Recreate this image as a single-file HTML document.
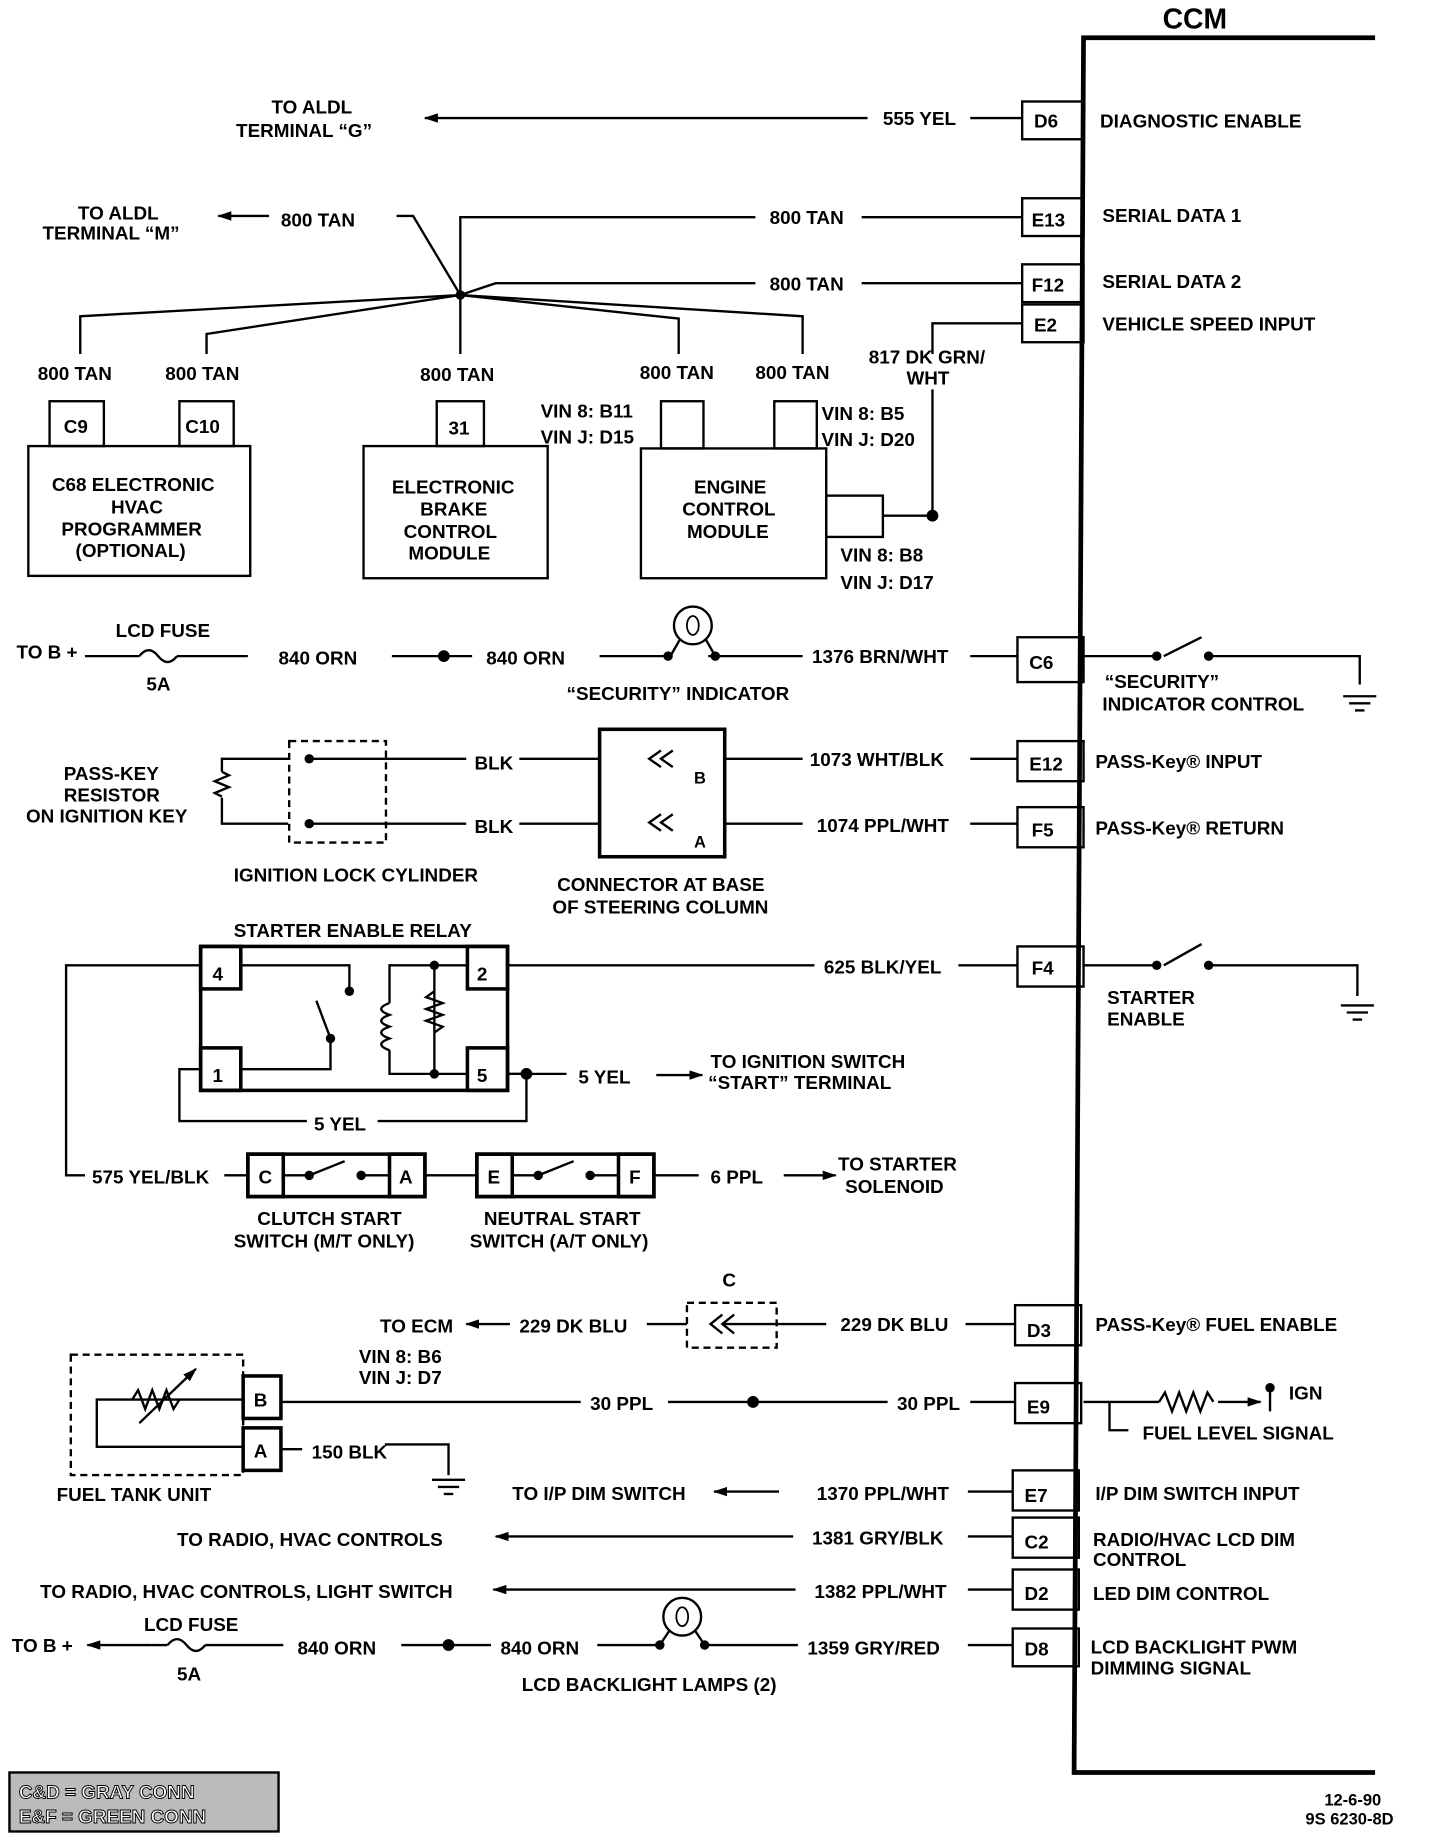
<!DOCTYPE html>
<html><head><meta charset="utf-8"><style>
html,body{margin:0;padding:0;background:#fff}
svg{display:block}
text{font-family:"Liberation Sans",sans-serif;font-weight:bold;font-size:16px;fill:#000}
</style></head><body>
<svg width="1440" height="1848" viewBox="0 0 1220 1566" preserveAspectRatio="none" xmlns="http://www.w3.org/2000/svg">
<defs>
<marker id="ar" markerWidth="12" markerHeight="8" refX="11" refY="4" orient="auto" markerUnits="userSpaceOnUse"><path d="M0,0 L12,4 L0,8 Z" fill="#000"/></marker>
</defs>
<g stroke="#000" stroke-width="2" fill="none">
<path d="M1165,32 L918,32 L910,1502 L1165,1502" stroke-width="4"/>
<rect x="866" y="86" width="52" height="32"/>
<rect x="866" y="168" width="52" height="32"/>
<rect x="866" y="224" width="52" height="32"/>
<rect x="866" y="258" width="52" height="32"/>
<rect x="862" y="540" width="56" height="38"/>
<rect x="862" y="628" width="56" height="34"/>
<rect x="862" y="684" width="56" height="34"/>
<rect x="862" y="802" width="56" height="34"/>
<rect x="860" y="1106" width="56" height="34"/>
<rect x="860" y="1172" width="56" height="34"/>
<rect x="858" y="1246" width="56" height="34"/>
<rect x="858" y="1286" width="56" height="34"/>
<rect x="858" y="1330" width="56" height="34"/>
<rect x="858" y="1380" width="56" height="32"/>
<line x1="735" y1="100" x2="360" y2="100" marker-end="url(#ar)"/>
<line x1="822" y1="100" x2="866" y2="100"/>
<polyline points="640,184 390,184 390,250"/>
<line x1="730" y1="184" x2="866" y2="184"/>
<polyline points="640,240 420,240 390,250"/>
<line x1="730" y1="240" x2="866" y2="240"/>
<line x1="228" y1="183" x2="185" y2="183" marker-end="url(#ar)"/>
<polyline points="336,183 350,183 390,250"/>
<polyline points="390,250 68,268 68,300"/>
<polyline points="390,250 175,283 175,300"/>
<line x1="390" y1="250" x2="390" y2="300"/>
<polyline points="390,250 575,270 575,300"/>
<polyline points="390,250 680,268 680,300"/>
<polyline points="866,274 790,274 790,300"/>
<polyline points="790,330 790,437 748,437"/>
<rect x="42" y="340" width="46" height="38"/>
<rect x="152" y="340" width="46" height="38"/>
<rect x="24" y="378" width="188" height="110"/>
<rect x="370" y="340" width="40" height="38"/>
<rect x="308" y="378" width="156" height="112"/>
<rect x="560" y="340" width="36" height="40"/>
<rect x="656" y="340" width="36" height="40"/>
<rect x="543" y="380" width="157" height="110"/>
<rect x="700" y="420" width="48" height="35"/>
<line x1="72" y1="556" x2="118" y2="556"/>
<path d="M118,556 q8,-10 16,0 q8,10 16,0"/>
<line x1="150" y1="556" x2="210" y2="556"/>
<line x1="332" y1="556" x2="400" y2="556"/>
<line x1="508" y1="556" x2="566" y2="556"/>
<line x1="600" y1="556" x2="680" y2="556"/>
<line x1="822" y1="556" x2="862" y2="556"/>
<circle cx="587" cy="530" r="16"/>
<ellipse cx="587" cy="530" rx="5" ry="8" stroke-width="1.5"/>
<path d="M576,542 L568,556 M598,542 L606,556"/>
<polyline points="918,556 980,556"/>
<line x1="986" y1="556" x2="1018" y2="540"/>
<polyline points="1026,556 1152,556 1152,580"/>
<line x1="1138" y1="590" x2="1166" y2="590"/><line x1="1143" y1="596" x2="1161" y2="596"/><line x1="1148" y1="602" x2="1156" y2="602"/>
<rect x="245" y="628" width="82" height="86" stroke-dasharray="6,4"/>
<polyline points="244,643 188,643 188,654"/>
<path d="M188,654 l6,3 -12,5 12,5 -12,5 6,3" />
<polyline points="188,676 188,698 244,698"/>
<line x1="262" y1="643" x2="395" y2="643"/>
<line x1="262" y1="698" x2="395" y2="698"/>
<line x1="440" y1="643" x2="508" y2="643"/>
<line x1="440" y1="698" x2="508" y2="698"/>
<rect x="508" y="618" width="106" height="108" stroke-width="3"/>
<path d="M560,636 l-10,7 10,7 M570,636 l-10,7 10,7"/>
<path d="M560,690 l-10,7 10,7 M570,690 l-10,7 10,7"/>
<line x1="614" y1="643" x2="680" y2="643"/>
<line x1="614" y1="698" x2="680" y2="698"/>
<line x1="822" y1="643" x2="862" y2="643"/>
<line x1="822" y1="698" x2="862" y2="698"/>
<rect x="170" y="802" width="260" height="122" stroke-width="3"/>
<rect x="170" y="802" width="34" height="36" stroke-width="3"/>
<rect x="396" y="802" width="34" height="36" stroke-width="3"/>
<rect x="170" y="888" width="34" height="36" stroke-width="3"/>
<rect x="396" y="888" width="34" height="36" stroke-width="3"/>
<polyline points="204,818 296,818 296,840"/>
<polyline points="204,906 280,906 280,880"/>
<line x1="280" y1="880" x2="268" y2="848"/>
<polyline points="396,818 368,818 368,910 396,910"/>
<polyline points="368,818 330,818 330,850"/>
<path d="M330,850 q-14,5 0,10 q-14,5 0,10 q-14,5 0,10 q-14,5 0,10"/>
<polyline points="330,890 330,910 368,910"/>
<path d="M368,840 l-7,5 14,5 -14,5 14,5 -14,5 14,5 -7,5"/>
<polyline points="170,818 56,818 56,996 72,996"/>
<polyline points="170,906 152,906 152,950 260,950"/>
<polyline points="320,950 446,950 446,910 430,910"/>
<line x1="430" y1="910" x2="480" y2="910"/>
<line x1="556" y1="911" x2="595" y2="911" marker-end="url(#ar)"/>
<line x1="430" y1="818" x2="690" y2="818"/>
<line x1="812" y1="818" x2="862" y2="818"/>
<polyline points="918,818 980,818"/>
<line x1="986" y1="818" x2="1018" y2="800"/>
<polyline points="1026,818 1150,818 1150,844"/>
<line x1="1136" y1="852" x2="1164" y2="852"/><line x1="1141" y1="858" x2="1159" y2="858"/><line x1="1146" y1="864" x2="1154" y2="864"/>
<line x1="190" y1="996" x2="210" y2="996"/>
<rect x="210" y="978" width="30" height="36" stroke-width="3"/>
<rect x="330" y="978" width="30" height="36" stroke-width="3"/>
<rect x="210" y="978" width="150" height="36" stroke-width="3"/>
<line x1="240" y1="996" x2="262" y2="996"/><line x1="262" y1="996" x2="292" y2="984"/><line x1="306" y1="996" x2="330" y2="996"/>
<line x1="360" y1="996" x2="404" y2="996"/>
<rect x="404" y="978" width="150" height="36" stroke-width="3"/>
<rect x="404" y="978" width="30" height="36" stroke-width="3"/>
<rect x="524" y="978" width="30" height="36" stroke-width="3"/>
<line x1="434" y1="996" x2="456" y2="996"/><line x1="456" y1="996" x2="486" y2="984"/><line x1="500" y1="996" x2="524" y2="996"/>
<line x1="554" y1="996" x2="592" y2="996"/>
<line x1="664" y1="996" x2="708" y2="996" marker-end="url(#ar)"/>
<line x1="432" y1="1122" x2="395" y2="1122" marker-end="url(#ar)"/>
<line x1="548" y1="1122" x2="582" y2="1122"/>
<rect x="582" y="1104" width="76" height="38" stroke-dasharray="6,4"/>
<path d="M612,1114 l-10,8 10,8 M622,1114 l-10,8 10,8"/>
<line x1="612" y1="1122" x2="700" y2="1122"/>
<line x1="818" y1="1122" x2="860" y2="1122"/>
<rect x="60" y="1148" width="146" height="102" stroke-dasharray="6,4"/>
<polyline points="206,1186 82,1186 82,1226 206,1226"/>
<path d="M112,1186 l5,-8 6,16 6,-16 6,16 6,-16 6,16 5,-8"/>
<line x1="118" y1="1206" x2="166" y2="1160" marker-end="url(#ar)"/>
<rect x="206" y="1166" width="32" height="36" stroke-width="3"/>
<rect x="206" y="1210" width="32" height="36" stroke-width="3"/>
<line x1="238" y1="1188" x2="492" y2="1188"/>
<line x1="566" y1="1188" x2="752" y2="1188"/>
<line x1="822" y1="1188" x2="860" y2="1188"/>
<line x1="238" y1="1228" x2="256" y2="1228"/>
<polyline points="326,1224 380,1224 380,1250"/>
<line x1="366" y1="1254" x2="394" y2="1254"/><line x1="371" y1="1260" x2="389" y2="1260"/><line x1="376" y1="1266" x2="384" y2="1266"/>
<polyline points="918,1188 982,1188"/>
<path d="M982,1188 l5,-8 6,16 6,-16 6,16 6,-16 6,16 6,-16 5,8"/>
<line x1="1032" y1="1188" x2="1068" y2="1188" marker-end="url(#ar)"/>
<line x1="1076" y1="1176" x2="1076" y2="1196"/>
<polyline points="940,1188 940,1212 956,1212"/>
<line x1="660" y1="1264" x2="605" y2="1264" marker-end="url(#ar)"/>
<line x1="820" y1="1264" x2="858" y2="1264"/>
<line x1="672" y1="1302" x2="420" y2="1302" marker-end="url(#ar)"/>
<line x1="820" y1="1302" x2="858" y2="1302"/>
<line x1="674" y1="1347" x2="418" y2="1347" marker-end="url(#ar)"/>
<line x1="820" y1="1347" x2="858" y2="1347"/>
<line x1="128" y1="1394" x2="74" y2="1394" marker-end="url(#ar)"/>
<line x1="128" y1="1394" x2="142" y2="1394"/>
<path d="M142,1394 q8,-10 16,0 q8,10 16,0"/>
<line x1="174" y1="1394" x2="240" y2="1394"/>
<line x1="340" y1="1394" x2="416" y2="1394"/>
<line x1="506" y1="1394" x2="560" y2="1394"/>
<line x1="596" y1="1394" x2="676" y2="1394"/>
<line x1="820" y1="1394" x2="858" y2="1394"/>
<circle cx="578" cy="1370" r="16"/>
<ellipse cx="578" cy="1370" rx="5" ry="8" stroke-width="1.5"/>
<path d="M567,1382 L559,1394 M589,1382 L597,1394"/>
</g>
<g fill="#000">
<circle cx="390" cy="250" r="4"/><circle cx="790" cy="437" r="5"/><circle cx="376" cy="556" r="5"/>
<circle cx="566" cy="556" r="4"/><circle cx="606" cy="556" r="4"/>
<circle cx="262" cy="643" r="4"/><circle cx="262" cy="698" r="4"/>
<circle cx="980" cy="556" r="4"/><circle cx="1024" cy="556" r="4"/>
<circle cx="296" cy="840" r="4"/><circle cx="280" cy="880" r="4"/><circle cx="368" cy="818" r="4"/><circle cx="368" cy="910" r="4"/>
<circle cx="446" cy="910" r="5"/>
<circle cx="980" cy="818" r="4"/><circle cx="1024" cy="818" r="4"/>
<circle cx="262" cy="996" r="4"/><circle cx="306" cy="996" r="4"/><circle cx="456" cy="996" r="4"/><circle cx="500" cy="996" r="4"/>
<circle cx="638" cy="1188" r="5"/><circle cx="1076" cy="1176" r="4"/>
<circle cx="380" cy="1394" r="5"/><circle cx="559" cy="1394" r="4"/><circle cx="597" cy="1394" r="4"/>
</g>
<g>
<text x="985" y="24" style="font-size:24px">CCM</text>
<text x="230" y="96">TO ALDL</text><text x="200" y="116">TERMINAL “G”</text>
<text x="748" y="106">555 YEL</text>
<text x="876" y="108">D6</text><text x="932" y="108">DIAGNOSTIC ENABLE</text>
<text x="66" y="186">TO ALDL</text><text x="36" y="203">TERMINAL “M”</text>
<text x="238" y="192">800 TAN</text>
<text x="652" y="190">800 TAN</text><text x="652" y="246">800 TAN</text>
<text x="874" y="192">E13</text><text x="874" y="247">F12</text><text x="876" y="281">E2</text>
<text x="934" y="188">SERIAL DATA 1</text><text x="934" y="244">SERIAL DATA 2</text><text x="934" y="280">VEHICLE SPEED INPUT</text>
<text x="736" y="308">817 DK GRN/</text><text x="768" y="326">WHT</text>
<text x="32" y="322">800 TAN</text><text x="140" y="322">800 TAN</text><text x="356" y="323">800 TAN</text>
<text x="542" y="321">800 TAN</text><text x="640" y="321">800 TAN</text>
<text x="54" y="367">C9</text><text x="157" y="367">C10</text><text x="380" y="368">31</text>
<text x="458" y="354">VIN 8: B11</text><text x="458" y="376">VIN J: D15</text>
<text x="696" y="356">VIN 8: B5</text><text x="696" y="378">VIN J: D20</text>
<text x="44" y="416">C68 ELECTRONIC</text><text x="94" y="435">HVAC</text><text x="52" y="454">PROGRAMMER</text><text x="64" y="472">(OPTIONAL)</text>
<text x="332" y="418">ELECTRONIC</text><text x="356" y="437">BRAKE</text><text x="342" y="456">CONTROL</text><text x="346" y="474">MODULE</text>
<text x="588" y="418">ENGINE</text><text x="578" y="437">CONTROL</text><text x="582" y="456">MODULE</text>
<text x="712" y="476">VIN 8: B8</text><text x="712" y="499">VIN J: D17</text>
<text x="98" y="540">LCD FUSE</text><text x="14" y="558">TO B +</text><text x="124" y="585">5A</text>
<text x="236" y="563">840 ORN</text><text x="412" y="563">840 ORN</text>
<text x="688" y="562">1376 BRN/WHT</text><text x="872" y="567">C6</text>
<text x="480" y="593">“SECURITY” INDICATOR</text>
<text x="936" y="583">“SECURITY”</text><text x="934" y="602">INDICATOR CONTROL</text>
<text x="54" y="661">PASS-KEY</text><text x="54" y="679">RESISTOR</text><text x="22" y="697">ON IGNITION KEY</text>
<text x="402" y="652">BLK</text><text x="402" y="706">BLK</text>
<text x="588" y="664" style="font-size:14px">B</text><text x="588" y="718" style="font-size:14px">A</text>
<text x="686" y="649">1073 WHT/BLK</text><text x="692" y="705">1074 PPL/WHT</text>
<text x="872" y="653">E12</text><text x="874" y="709">F5</text>
<text x="928" y="651">PASS-Key® INPUT</text><text x="928" y="707">PASS-Key® RETURN</text>
<text x="198" y="747">IGNITION LOCK CYLINDER</text>
<text x="472" y="755">CONNECTOR AT BASE</text><text x="468" y="774">OF STEERING COLUMN</text>
<text x="198" y="794">STARTER ENABLE RELAY</text>
<text x="180" y="831">4</text><text x="404" y="831">2</text><text x="180" y="917">1</text><text x="404" y="917">5</text>
<text x="698" y="825">625 BLK/YEL</text><text x="874" y="826">F4</text>
<text x="938" y="851">STARTER</text><text x="938" y="869">ENABLE</text>
<text x="490" y="918">5 YEL</text>
<text x="602" y="905">TO IGNITION SWITCH</text><text x="600" y="923">“START” TERMINAL</text>
<text x="266" y="958">5 YEL</text>
<text x="78" y="1003">575 YEL/BLK</text>
<text x="219" y="1003">C</text><text x="338" y="1003">A</text><text x="413" y="1003">E</text><text x="533" y="1003">F</text>
<text x="602" y="1003">6  PPL</text>
<text x="710" y="992">TO STARTER</text><text x="716" y="1011">SOLENOID</text>
<text x="218" y="1038">CLUTCH START</text><text x="198" y="1057">SWITCH (M/T ONLY)</text>
<text x="410" y="1038">NEUTRAL START</text><text x="398" y="1057">SWITCH (A/T ONLY)</text>
<text x="612" y="1090">C</text>
<text x="322" y="1129">TO ECM</text><text x="440" y="1129">229 DK BLU</text><text x="712" y="1128">229 DK BLU</text>
<text x="870" y="1133">D3</text><text x="928" y="1128">PASS-Key® FUEL ENABLE</text>
<text x="304" y="1155">VIN 8:  B6</text><text x="304" y="1173">VIN J:  D7</text>
<text x="215" y="1192">B</text><text x="215" y="1235">A</text>
<text x="500" y="1195">30  PPL</text><text x="760" y="1195">30 PPL</text>
<text x="870" y="1198">E9</text>
<text x="1092" y="1186">IGN</text><text x="968" y="1220">FUEL LEVEL SIGNAL</text>
<text x="264" y="1236">150 BLK</text>
<text x="48" y="1272">FUEL TANK UNIT</text>
<text x="434" y="1271">TO I/P DIM SWITCH</text><text x="692" y="1271">1370 PPL/WHT</text>
<text x="868" y="1273">E7</text><text x="928" y="1271">I/P DIM SWITCH INPUT</text>
<text x="150" y="1310">TO RADIO, HVAC CONTROLS</text><text x="688" y="1309">1381 GRY/BLK</text>
<text x="868" y="1312">C2</text><text x="926" y="1310">RADIO/HVAC LCD DIM</text><text x="926" y="1327">CONTROL</text>
<text x="34" y="1354">TO RADIO, HVAC CONTROLS, LIGHT SWITCH</text><text x="690" y="1354">1382 PPL/WHT</text>
<text x="868" y="1356">D2</text><text x="926" y="1356">LED DIM CONTROL</text>
<text x="122" y="1382">LCD FUSE</text><text x="10" y="1400">TO B +</text><text x="150" y="1424">5A</text>
<text x="252" y="1402">840 ORN</text><text x="424" y="1402">840 ORN</text>
<text x="684" y="1402">1359 GRY/RED</text><text x="868" y="1403">D8</text>
<text x="924" y="1401">LCD BACKLIGHT PWM</text><text x="924" y="1419">DIMMING SIGNAL</text>
<text x="442" y="1433">LCD BACKLIGHT LAMPS (2)</text>
<rect x="8" y="1502" width="228" height="50" fill="#bbb" stroke="#000" stroke-width="2"/>
<text x="16" y="1524" style="fill:#fff;stroke:#000;stroke-width:0.8">C&amp;D = GRAY CONN</text>
<text x="16" y="1545" style="fill:#fff;stroke:#000;stroke-width:0.8">E&amp;F = GREEN CONN</text>
<text x="1122" y="1530" style="font-size:14px">12-6-90</text>
<text x="1106" y="1546" style="font-size:14px">9S 6230-8D</text>
</g>
</svg>
</body></html>
